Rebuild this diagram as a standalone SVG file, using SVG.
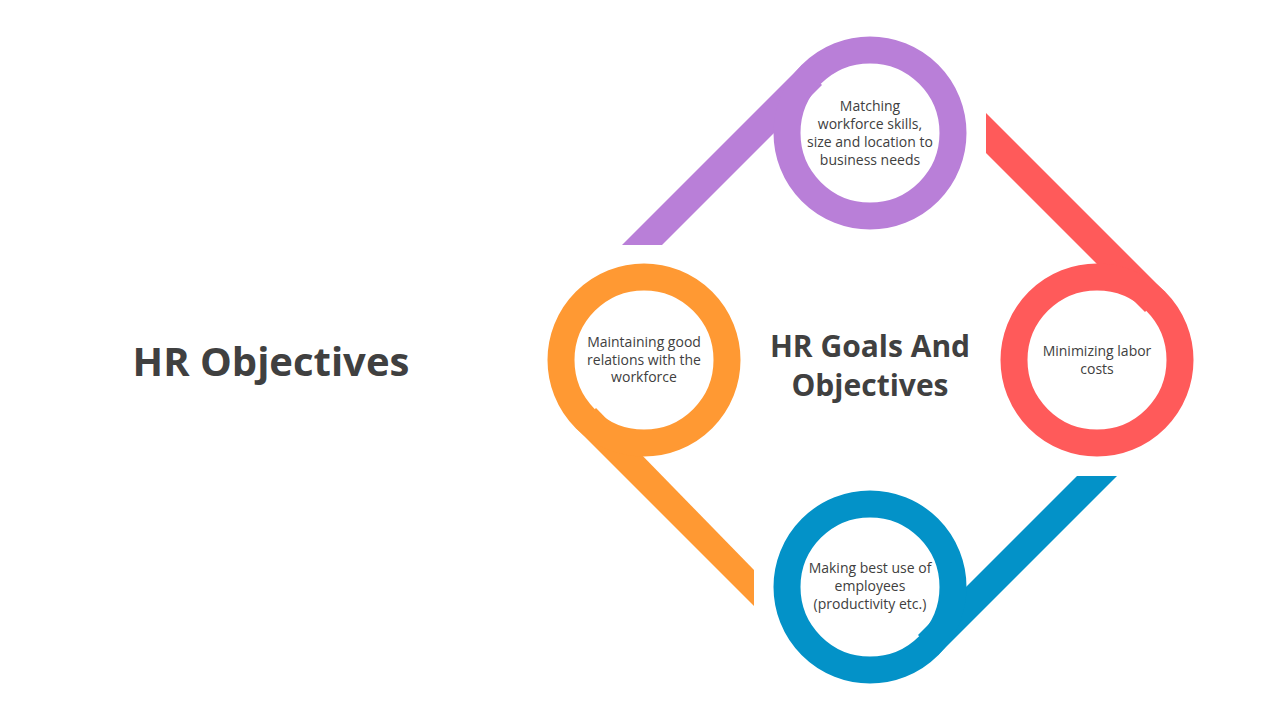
<svg xmlns="http://www.w3.org/2000/svg" width="1280" height="720" viewBox="0 0 1280 720">
<style>
.ring{fill:none;stroke-width:27}
.t{font-family:"Open Sans","Liberation Sans",sans-serif;font-size:14px;fill:#404040;text-anchor:middle}
.h{font-family:"Open Sans","Liberation Sans",sans-serif;font-weight:bold;fill:#404040;text-anchor:middle}
</style>
<rect width="1280" height="720" fill="#fff"/>
<text class="h" x="271" y="376" font-size="40">HR Objectives</text>
<text class="h" x="870" y="357" font-size="30">HR Goals And</text>
<text class="h" x="870" y="396" font-size="30">Objectives</text>
<g id="connectors">
<polygon fill="#B97FD8" points="802,65 622,245 662,245 822,85"/>
<polygon fill="#FF9933" points="576,428 754,606 754,570 596,408"/>
<polygon fill="#0392C8" points="938,655 1117,476 1077,476 918,635"/>
<polygon fill="#FF5A5A" points="1165,292 986,113 986,153 1145,312"/>
</g>
<g id="purple"><circle class="ring" cx="870" cy="133" r="83" stroke="#B97FD8"/>
<text class="t" x="870" y="111">Matching</text><text class="t" x="870" y="129">workforce skills,</text><text class="t" x="870" y="147">size and location to</text><text class="t" x="870" y="165">business needs</text></g>
<g id="orange"><circle class="ring" cx="644" cy="360" r="83" stroke="#FF9933"/>
<text class="t" x="644" y="347">Maintaining good</text><text class="t" x="644" y="365">relations with the</text><text class="t" x="644" y="382">workforce</text></g>
<g id="red"><circle class="ring" cx="1097" cy="360" r="83" stroke="#FF5A5A"/>
<text class="t" x="1097" y="356">Minimizing labor</text><text class="t" x="1097" y="374">costs</text></g>
<g id="blue"><circle class="ring" cx="870" cy="587" r="83" stroke="#0392C8"/>
<text class="t" x="870" y="573">Making best use of</text><text class="t" x="870" y="591">employees</text><text class="t" x="870" y="609">(productivity etc.)</text></g>
</svg>
